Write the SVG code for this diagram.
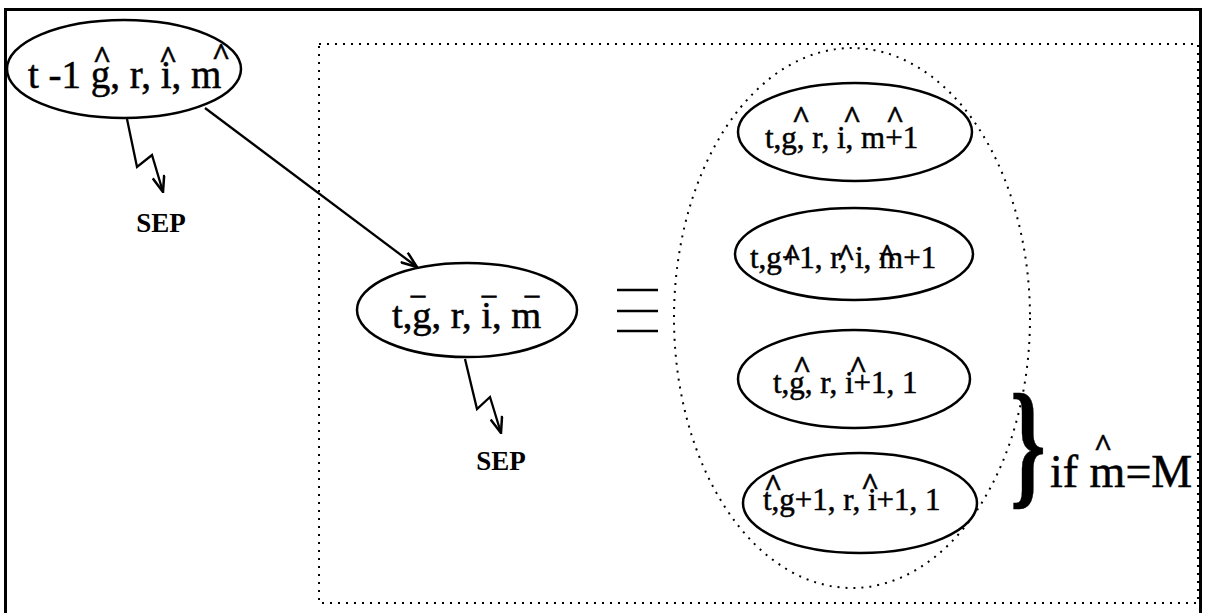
<svg xmlns="http://www.w3.org/2000/svg" width="1205" height="613" viewBox="0 0 1205 613">
<defs>
<style>
.t{font-family:"Liberation Serif","Times New Roman",serif;fill:#000;stroke:#000;stroke-width:0.5}
.node{fill:none;stroke:#000;stroke-width:2.5}
.dot{fill:none;stroke:#000;stroke-width:2;stroke-dasharray:2 6}
.edge{fill:none;stroke:#000;stroke-width:2.3}
.cr{font-size:32px;font-weight:bold;text-anchor:middle}
.mc{font-size:28px;text-anchor:middle;stroke-width:0.9}
.sep{font-family:"Liberation Serif","Times New Roman",serif;font-size:27px;font-weight:bold;text-anchor:middle}
</style>
<marker id="ah" viewBox="0 0 18 14" refX="17" refY="7" markerWidth="18" markerHeight="14" markerUnits="userSpaceOnUse" orient="auto">
<path d="M1,1 L17,7 L1,13" fill="none" stroke="#000" stroke-width="2.5"/>
</marker>
</defs>
<rect width="1205" height="613" fill="#fff"/>
<g id="frame">
<rect x="5.5" y="9.5" width="1195" height="620" fill="none" stroke="#000" stroke-width="3"/>
<rect x="319" y="44" width="879" height="559" class="dot"/>
</g>
<g id="group-ellipse">
<ellipse cx="852" cy="318" rx="178" ry="270" class="dot"/>
</g>
<g id="connectors">
<line x1="205" y1="108" x2="417" y2="267" class="edge" marker-end="url(#ah)"/>
<polyline points="127,119 137,167 152,155 163,192" class="edge" marker-end="url(#ah)"/>
<polyline points="465,359 477,409 490,397 501,433" class="edge" marker-end="url(#ah)"/>
</g>
<g id="node-prev">
<ellipse cx="124" cy="69" rx="117" ry="49" class="node"/>
<text class="t" font-size="39"><tspan x="28" y="88">t -1 g, r, i, m</tspan><tspan class="cr" x="102" y="68">^</tspan><tspan class="cr" x="168" y="68">^</tspan><tspan class="cr" x="221" y="65">^</tspan></text>
</g>
<g id="sep-1">
<text class="sep" x="161" y="232">SEP</text>
</g>
<g id="node-current">
<ellipse cx="467" cy="310" rx="110" ry="47" class="node"/>
<text class="t" font-size="38.5"><tspan x="392" y="328">t,g, r, i, m</tspan><tspan class="mc" x="418" y="317">¯</tspan><tspan class="mc" x="489" y="317">¯</tspan><tspan class="mc" x="532" y="317">¯</tspan></text>
</g>
<g id="sep-2">
<text class="sep" x="501" y="470">SEP</text>
</g>
<g id="equiv">
<line x1="617" y1="290" x2="658" y2="290" class="edge"/>
<line x1="617" y1="311" x2="658" y2="311" class="edge"/>
<line x1="617" y1="331" x2="658" y2="331" class="edge"/>
</g>
<g id="node-s1">
<ellipse cx="855" cy="132" rx="117" ry="49" class="node"/>
<text class="t" font-size="31"><tspan x="765" y="148">t,g, r, i, m+1</tspan><tspan class="cr" x="801" y="128">^</tspan><tspan class="cr" x="852" y="128">^</tspan><tspan class="cr" x="895" y="128">^</tspan></text>
</g>
<g id="node-s2">
<ellipse cx="854" cy="254" rx="119" ry="46" class="node"/>
<text class="t" font-size="31"><tspan x="750" y="268">t,g+1, r, i, m+1</tspan><tspan class="cr" x="792" y="266">^</tspan><tspan class="cr" x="846" y="266">^</tspan><tspan class="cr" x="887" y="266">^</tspan></text>
</g>
<g id="node-s3">
<ellipse cx="854" cy="379" rx="116" ry="49" class="node"/>
<text class="t" font-size="31"><tspan x="773" y="393">t,g, r, i+1, 1</tspan><tspan class="cr" x="802" y="378">^</tspan><tspan class="cr" x="858" y="378">^</tspan></text>
</g>
<g id="node-s4">
<ellipse cx="860" cy="503" rx="117" ry="50" class="node"/>
<text class="t" font-size="31"><tspan x="763" y="510">t,g+1, r, i+1, 1</tspan><tspan class="cr" x="773" y="496">^</tspan><tspan class="cr" x="870" y="495">^</tspan></text>
</g>
<g id="condition">
<text class="t" font-size="140" font-weight="bold" text-anchor="middle" transform="translate(1028,490) scale(0.65,1)">}</text>
<text class="t" font-size="46" stroke-width="1"><tspan x="1050" y="487">if m=M</tspan><tspan class="cr" x="1103" y="456">^</tspan></text>
</g>
</svg>
